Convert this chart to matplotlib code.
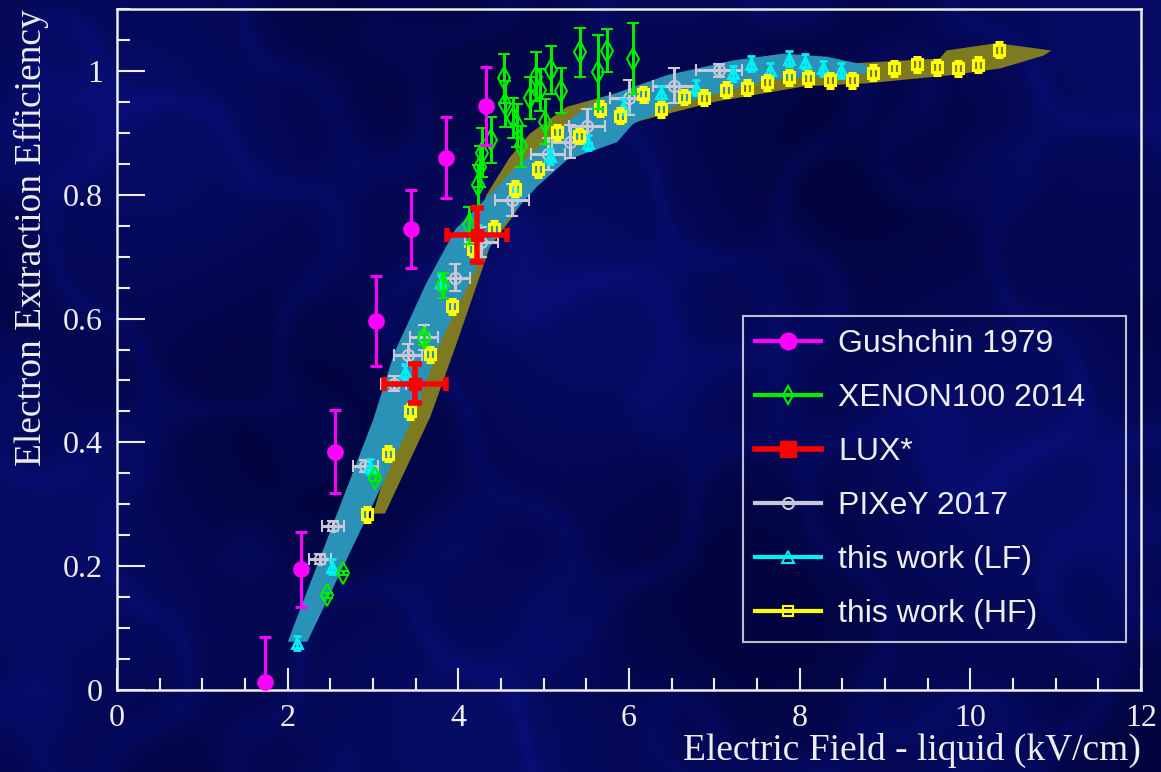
import matplotlib
matplotlib.use("Agg")
import matplotlib.pyplot as plt
from matplotlib.lines import Line2D
from matplotlib.ticker import MultipleLocator
import numpy as np

# Gushchin 1979
gu_x = [1.73, 2.16, 2.55, 3.04, 3.44, 3.86, 4.32]
gu_y = [0.013, 0.195, 0.385, 0.596, 0.744, 0.860, 0.943]
gu_ey = [0.072, 0.061, 0.067, 0.073, 0.063, 0.066, 0.063]

# XENON100 2014
xe_x = [2.46, 2.65, 3.02, 3.60, 3.82, 4.12, 4.23, 4.25, 4.28, 4.38, 4.54, 4.55,
        4.64, 4.69, 4.73, 4.84, 4.91, 4.96, 5.01, 5.08, 5.20, 5.43, 5.64, 5.74, 6.05]
xe_y = [0.153, 0.189, 0.343, 0.568, 0.654, 0.751, 0.815, 0.845, 0.868, 0.888, 0.988, 0.946,
        0.924, 0.912, 0.878, 0.957, 0.991, 0.969, 0.918, 1.001, 0.968, 1.030, 0.998, 1.033, 1.020]
xe_ey = [0.004, 0.004, 0.005, 0.010, 0.020, 0.030, 0.033, 0.033, 0.040, 0.037, 0.040, 0.037,
         0.033, 0.035, 0.033, 0.034, 0.040, 0.034, 0.036, 0.039, 0.036, 0.039, 0.060, 0.034, 0.057]

# LUX*
lux_x = [3.49, 4.22]
lux_y = [0.495, 0.735]
lux_ex = [0.36, 0.35]
lux_ey = [0.032, 0.043]

# PIXeY 2017
px_x = [2.38, 2.53, 2.91, 3.24, 3.41, 3.60, 3.96, 4.27, 4.63, 5.05, 5.31, 5.51, 6.00, 6.53, 7.05]
px_y = [0.212, 0.265, 0.362, 0.495, 0.541, 0.570, 0.666, 0.724, 0.791, 0.866, 0.886, 0.911,
        0.957, 0.976, 1.001]
px_ex = [0.13, 0.13, 0.15, 0.15, 0.16, 0.165, 0.18, 0.19, 0.195, 0.20, 0.21, 0.21, 0.22, 0.25, 0.27]
px_ey = [0.008, 0.008, 0.010, 0.012, 0.018, 0.020, 0.022, 0.024, 0.026, 0.026, 0.027, 0.027,
         0.028, 0.028, 0.010]

# this work, low field
lf_x = [2.11, 2.52, 2.97, 3.38, 3.80, 4.23, 4.66, 5.07, 5.52, 5.93, 6.37, 6.79, 7.22, 7.43,
        7.65, 7.87, 8.06, 8.27, 8.48]
lf_y = [0.076, 0.199, 0.361, 0.514, 0.659, 0.739, 0.808, 0.862, 0.884, 0.942, 0.964, 0.973,
        0.996, 1.012, 1.001, 1.020, 1.015, 1.004, 1.001]

# this work, high field
hf_x = [2.93, 3.18, 3.43, 3.67, 3.93, 4.17, 4.42, 4.66, 4.93, 5.16, 5.41, 5.66, 5.90, 6.16,
        6.38, 6.64, 6.88, 7.14, 7.38, 7.62, 7.88, 8.10, 8.36, 8.61, 8.86, 9.11, 9.37, 9.61,
        9.86, 10.09, 10.34]
hf_y = [0.284, 0.382, 0.450, 0.542, 0.620, 0.713, 0.745, 0.810, 0.841, 0.901, 0.895, 0.939,
        0.928, 0.962, 0.938, 0.958, 0.957, 0.970, 0.973, 0.982, 0.990, 0.988, 0.985, 0.985,
        0.997, 1.004, 1.011, 1.006, 1.004, 1.010, 1.034]

# systematic bands (upper-left edge, lower-right edge)
lf_band_up_x = [2.00, 2.50, 3.00, 3.25, 3.62, 3.97, 4.33, 4.68, 5.04, 5.35, 5.66, 6.44, 7.22,
                7.81, 8.32, 8.79]
lf_band_up_y = [0.078, 0.257, 0.436, 0.545, 0.656, 0.745, 0.795, 0.845, 0.888, 0.926, 0.955,
                0.993, 1.017, 1.028, 1.023, 1.009]
lf_band_lo_x = [2.23, 3.00, 3.50, 3.80, 4.22, 4.57, 4.92, 5.27, 5.86, 6.05, 6.60, 7.61, 8.79]
lf_band_lo_y = [0.078, 0.300, 0.450, 0.565, 0.684, 0.759, 0.813, 0.856, 0.885, 0.915, 0.947,
                0.985, 0.996]

hf_band_up_x = [3.00, 3.60, 4.00, 4.20, 4.33, 4.60, 4.84, 5.27, 5.82, 6.05, 7.00, 8.00, 8.59,
                9.64, 9.72, 10.31, 10.95]
hf_band_up_y = [0.285, 0.560, 0.690, 0.750, 0.800, 0.860, 0.899, 0.942, 0.963, 0.968, 0.990,
                1.005, 1.012, 1.020, 1.033, 1.045, 1.033]
hf_band_lo_x = [3.14, 3.67, 3.98, 4.37, 4.64, 4.80, 5.27, 5.82, 6.09, 7.00, 8.05, 8.79, 9.76,
                10.35, 10.86, 10.95]
hf_band_lo_y = [0.285, 0.441, 0.560, 0.716, 0.765, 0.802, 0.872, 0.893, 0.918, 0.950, 0.975,
                0.980, 0.993, 1.004, 1.025, 1.033]

bg = "#050a5e"
fg = "#eeeeee"

plt.rcParams["font.family"] = ["Liberation Serif", "DejaVu Serif"]

fig = plt.figure(figsize=(11.61, 7.72), dpi=100, facecolor=bg)

# faint cloudy backdrop behind everything
bgax = fig.add_axes([0, 0, 1, 1], zorder=-1)
bgax.set_axis_off()
yy, xx = np.mgrid[0:772, 0:1161] / 100.0
waves = (np.sin(1.3 * xx + 0.7 * yy + 0.4) + np.sin(-0.6 * xx + 1.5 * yy + 2.1)
         + np.sin(2.1 * xx - 1.1 * yy + 4.0) + 0.7 * np.sin(3.3 * xx + 2.6 * yy + 1.3)
         + 0.6 * np.sin(-2.8 * xx + 3.4 * yy + 5.2))
ridge = np.exp(-waves ** 2 / 0.4)
shade = 0.5 + 0.5 * np.sin(0.9 * xx - 0.5 * yy + 1.0) * np.sin(0.4 * xx + 0.8 * yy)
base = np.array([2, 4, 62]) / 255.0
lift = np.array([6, 10, 55]) / 255.0
img = base + (0.28 * ridge + 0.72 * shade)[..., None] * lift
bgax.imshow(np.clip(img, 0, 1), aspect="auto", interpolation="bilinear")

ax = fig.add_axes([0.1008, 0.1062, 0.882, 0.8821])
ax.set_facecolor("none")

# bands
ax.fill(np.r_[hf_band_up_x, hf_band_lo_x[::-1]], np.r_[hf_band_up_y, hf_band_lo_y[::-1]],
        color="#7d7a22", lw=0, zorder=1)
ax.fill(np.r_[lf_band_up_x, lf_band_lo_x[::-1]], np.r_[lf_band_up_y, lf_band_lo_y[::-1]],
        color="#2a92b6", lw=0, zorder=2)

# PIXeY
ax.errorbar(px_x, px_y, xerr=px_ex, yerr=px_ey, fmt="o", ms=8, mfc="none", mec="#c8c8d8",
            mew=1.5, ecolor="#c8c8d8", elinewidth=2.2, capsize=4, capthick=2.2, zorder=3)
# this work LF
ax.errorbar(lf_x, lf_y, yerr=0.012, fmt="^", ms=7, mfc="none", mec="#00f0f8", mew=2,
            ecolor="#00f0f8", elinewidth=2, capsize=3, capthick=2, zorder=4)
# this work HF
ax.errorbar(hf_x, hf_y, yerr=0.012, fmt="s", ms=7, mfc="none", mec="#ffff00", mew=2.2,
            ecolor="#ffff00", elinewidth=2, capsize=3, capthick=2, zorder=5)
# XENON100
ax.errorbar(xe_x, xe_y, yerr=xe_ey, fmt="d", ms=11, mfc="none", mec="#00ee00", mew=1.5,
            ecolor="#00ee00", elinewidth=2.2, capsize=4, capthick=2.2, zorder=6)
# Gushchin
ax.errorbar(gu_x, gu_y, yerr=gu_ey, fmt="o", ms=11, color="#ff00ff",
            ecolor="#ff00ff", elinewidth=2.2, capsize=4, capthick=2.2, zorder=7)
# LUX
ax.errorbar(lux_x, lux_y, xerr=lux_ex, yerr=lux_ey, fmt="s", ms=9, color="#ff0000",
            ecolor="#ff0000", elinewidth=4, capsize=5, capthick=4, zorder=8)

ax.set_xlim(0, 12)
ax.set_ylim(0, 1.1)
ax.xaxis.set_minor_locator(MultipleLocator(0.5))
ax.yaxis.set_minor_locator(MultipleLocator(0.05))
ax.set_xticks([0, 2, 4, 6, 8, 10, 12])
ax.set_xticklabels(["0", "2", "4", "6", "8", "10", "12"])
ax.set_yticks([0, 0.2, 0.4, 0.6, 0.8, 1.0])
ax.set_yticklabels(["0", "0.2", "0.4", "0.6", "0.8", "1"])

ax.tick_params(axis="both", which="both", direction="in", colors=fg, labelsize=23, width=1.5,
               top=False, right=False)
ax.tick_params(axis="x", which="major", length=16, pad=10)
ax.tick_params(axis="x", which="minor", length=8.5)
ax.tick_params(axis="y", which="major", length=20, pad=10)
ax.tick_params(axis="y", which="minor", length=9.5)
for s in ax.spines.values():
    s.set_color(fg)
    s.set_linewidth(1.8)

ax.set_xlabel("Electric Field - liquid (kV/cm)", loc="right", color=fg, fontsize=27, labelpad=0)
ax.set_ylabel("Electron Extraction Efficiency", loc="top", color=fg, fontsize=27, labelpad=10)

handles = [
    Line2D([], [], color="#ff00ff", lw=3, marker="o", ms=12),
    Line2D([], [], color="#00ee00", lw=3, marker="d", ms=9, mfc="none", mew=1.5),
    Line2D([], [], color="#ff0000", lw=4, marker="s", ms=11),
    Line2D([], [], color="#c8c8d8", lw=3, marker="o", ms=8, mfc="none", mew=1.5),
    Line2D([], [], color="#00f0f8", lw=3, marker="^", ms=8, mfc="none", mew=1.5),
    Line2D([], [], color="#ffff00", lw=3, marker="s", ms=7, mfc="none", mew=1.5),
]
labels = ["Gushchin 1979", "XENON100 2014", "LUX*", "PIXeY 2017", "this work (LF)",
          "this work (HF)"]
leg = ax.legend(handles, labels, loc="upper left", bbox_to_anchor=(0.611, 0.0705, 0.374, 0.4785),
                mode="expand", borderaxespad=0, frameon=True, fancybox=False, facecolor="none",
                edgecolor=fg, prop={"family": "Liberation Sans", "size": 23},
                handlelength=2.05, handletextpad=0.53, labelspacing=0.75, borderpad=0.4)
leg.get_frame().set_linewidth(1.5)
for t in leg.get_texts():
    t.set_color(fg)

fig.savefig("out.png", dpi=100, facecolor=bg)
